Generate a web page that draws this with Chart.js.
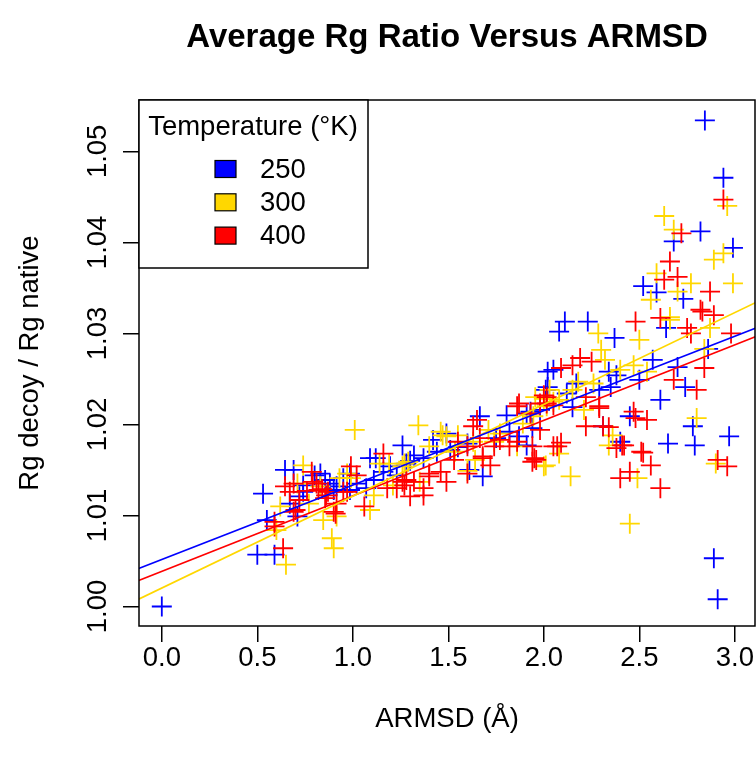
<!DOCTYPE html>
<html>
<head>
<meta charset="utf-8">
<script src="https://cdn.jsdelivr.net/npm/chart.js@4"></script>
<style>
  body { margin: 0; background: #fff; }
  canvas { display: block; }
</style>
</head>
<body>
<canvas id="rgChart" width="756" height="758"></canvas>
<script>
(() => {
  'use strict'

  const fontFamily = '"Liberation Sans", Arial, Helvetica, sans-serif'
  const baseSize = 27.5

  const temperatures = ['250', '300', '400']
  const colors = ['#0000FF', '#FFD700', '#FF0000']

  // [ARMSD, Rg decoy / Rg native]
  const points250 = [
    [0.00, 1.0000], [0.50, 1.0057], [0.59, 1.0057], [0.53, 1.0124], [0.55, 1.0095],
    [0.645, 1.0150], [0.69, 1.0150], [0.67, 1.0113], [0.71, 1.0099], [0.72, 1.0121],
    [0.74, 1.0133], [0.74, 1.0126], [0.80, 1.0144], [0.83, 1.0146], [0.855, 1.0139],
    [0.88, 1.0135], [0.90, 1.0128], [0.915, 1.0132], [0.95, 1.0141], [0.985, 1.0128],
    [0.985, 1.0146], [1.02, 1.0135], [1.07, 1.0130], [1.09, 1.0163], [1.11, 1.0139],
    [1.12, 1.0163], [1.16, 1.0148], [1.195, 1.0154], [1.23, 1.0144], [1.26, 1.0177],
    [1.28, 1.0157], [1.30, 1.0160], [1.32, 1.0166], [1.37, 1.0163], [1.42, 1.0183],
    [1.44, 1.0170], [1.49, 1.0190], [1.51, 1.0172], [1.55, 1.0175], [1.60, 1.0179],
    [1.61, 1.0150], [1.665, 1.0209], [1.68, 1.0143], [1.75, 1.0185], [1.805, 1.0210],
    [1.82, 1.0192], [1.87, 1.0187], [1.91, 1.0177], [1.91, 1.0212], [1.93, 1.0214],
    [1.94, 1.0196], [1.98, 1.0216], [2.01, 1.0238], [2.02, 1.0241], [2.02, 1.0258],
    [2.05, 1.0260], [2.08, 1.0302], [2.11, 1.0313], [2.12, 1.0234], [2.15, 1.0219],
    [2.17, 1.0245], [2.23, 1.0313], [2.29, 1.0238], [2.31, 1.0198], [2.34, 1.0258],
    [2.35, 1.0241], [2.37, 1.0295], [2.38, 1.0254], [2.40, 1.0181], [2.45, 1.0209],
    [2.50, 1.0249], [2.52, 1.0352], [2.57, 1.0271], [2.59, 1.0345], [2.61, 1.0227],
    [2.64, 1.0306], [2.65, 1.0179], [2.68, 1.0401], [2.70, 1.0263], [2.73, 1.0338],
    [2.74, 1.0241], [2.78, 1.0198], [2.79, 1.0177], [2.82, 1.0412], [2.843, 1.0534],
    [2.86, 1.0283], [2.89, 1.0053], [2.91, 1.0008], [2.94, 1.0471], [2.97, 1.0187],
    [2.99, 1.0394]
  ]
  const points300 = [
    [0.60, 1.0084], [0.62, 1.0110], [0.65, 1.0046], [0.71, 1.0135], [0.74, 1.0155],
    [0.77, 1.0113], [0.83, 1.0132], [0.845, 1.0095], [0.89, 1.0075], [0.90, 1.0064],
    [0.915, 1.0099], [0.93, 1.0141], [0.97, 1.0146], [0.99, 1.0141], [1.01, 1.0194],
    [1.09, 1.0106], [1.11, 1.0122], [1.14, 1.0157], [1.19, 1.0157], [1.21, 1.0133],
    [1.26, 1.0154], [1.27, 1.0157], [1.29, 1.0159], [1.343, 1.0199], [1.35, 1.0137],
    [1.40, 1.0176], [1.46, 1.0192], [1.47, 1.0188], [1.49, 1.0187], [1.535, 1.0170],
    [1.55, 1.0188], [1.60, 1.0149], [1.63, 1.0181], [1.64, 1.0161], [1.71, 1.0194],
    [1.74, 1.0181], [1.77, 1.0190], [1.86, 1.0176], [1.89, 1.0201], [1.945, 1.0209],
    [1.955, 1.0230], [2.00, 1.0154], [2.00, 1.0228], [2.01, 1.0155], [2.015, 1.0220],
    [2.03, 1.0238], [2.05, 1.0225], [2.08, 1.0227], [2.08, 1.0168], [2.14, 1.0143],
    [2.15, 1.0238], [2.18, 1.0247], [2.21, 1.0216], [2.26, 1.0245], [2.285, 1.0300],
    [2.30, 1.0282], [2.32, 1.0271], [2.34, 1.0177], [2.36, 1.0188], [2.40, 1.0260],
    [2.45, 1.0091], [2.47, 1.0265], [2.49, 1.0141], [2.50, 1.0293], [2.54, 1.0258],
    [2.56, 1.0337], [2.59, 1.0366], [2.63, 1.0429], [2.66, 1.0315], [2.66, 1.0318],
    [2.68, 1.0414], [2.70, 1.0346], [2.77, 1.0355], [2.80, 1.0207], [2.84, 1.0283],
    [2.87, 1.0306], [2.89, 1.0381], [2.90, 1.0157], [2.94, 1.0388], [2.96, 1.0440],
    [2.99, 1.0355]
  ]
  const points400 = [
    [0.59, 1.0088], [0.59, 1.0093], [0.635, 1.0064], [0.645, 1.0132], [0.67, 1.0126],
    [0.69, 1.0104], [0.69, 1.0135], [0.70, 1.0106], [0.72, 1.0117], [0.76, 1.0127],
    [0.785, 1.0148], [0.79, 1.0137], [0.81, 1.0135], [0.82, 1.0128], [0.84, 1.0129],
    [0.855, 1.0119], [0.86, 1.0122], [0.87, 1.0126], [0.90, 1.0104], [0.91, 1.0102],
    [0.915, 1.0113], [0.95, 1.0126], [0.97, 1.0126], [0.99, 1.0154], [1.02, 1.0144],
    [1.06, 1.0110], [1.16, 1.0168], [1.18, 1.0130], [1.23, 1.0130], [1.26, 1.0137],
    [1.27, 1.0133], [1.28, 1.0139], [1.30, 1.0121], [1.32, 1.0137], [1.37, 1.0122],
    [1.37, 1.0130], [1.40, 1.0143], [1.40, 1.0146], [1.46, 1.0148], [1.49, 1.0137],
    [1.53, 1.0161], [1.55, 1.0181], [1.60, 1.0146], [1.60, 1.0176], [1.63, 1.0198],
    [1.65, 1.0205], [1.665, 1.0185], [1.68, 1.0163], [1.68, 1.0165], [1.72, 1.0155],
    [1.74, 1.0176], [1.77, 1.0183], [1.82, 1.0176], [1.86, 1.0181], [1.86, 1.0220],
    [1.87, 1.0223], [1.93, 1.0212], [1.94, 1.0159], [1.94, 1.0176], [1.95, 1.0163],
    [1.96, 1.0161], [1.98, 1.0194], [1.98, 1.0223], [2.00, 1.0232], [2.015, 1.0223],
    [2.015, 1.0230], [2.05, 1.0176], [2.05, 1.0221], [2.07, 1.0176], [2.09, 1.0180],
    [2.09, 1.0262], [2.15, 1.0265], [2.19, 1.0273], [2.22, 1.0198], [2.22, 1.0230],
    [2.25, 1.0269], [2.29, 1.0218], [2.29, 1.0220], [2.31, 1.0198], [2.34, 1.0197],
    [2.38, 1.0174], [2.40, 1.0141], [2.41, 1.0177], [2.42, 1.0177], [2.45, 1.0148],
    [2.47, 1.0214], [2.48, 1.0207], [2.48, 1.0313], [2.51, 1.0170], [2.52, 1.0169],
    [2.54, 1.0205], [2.56, 1.0155], [2.61, 1.0130], [2.61, 1.0317], [2.63, 1.0359],
    [2.66, 1.0379], [2.68, 1.0249], [2.70, 1.0362], [2.72, 1.0410], [2.75, 1.0306],
    [2.77, 1.0300], [2.80, 1.0238], [2.82, 1.0326], [2.83, 1.0324], [2.84, 1.0262],
    [2.87, 1.0346], [2.89, 1.0320], [2.91, 1.0161], [2.94, 1.0447], [2.96, 1.0154],
    [2.98, 1.0300]
  ]

  // fitted lines, read at both ends of the plot
  const fitX = [-0.13, 3.11]
  const fit250 = [1.00411, 1.03059]
  const fit300 = [1.00072, 1.03341]
  const fit400 = [1.00278, 1.02967]

  const xTicks = [0, 0.5, 1, 1.5, 2, 2.5, 3]
  const xTickLabels = ['0.0', '0.5', '1.0', '1.5', '2.0', '2.5', '3.0']
  const yTicks = [1.00, 1.01, 1.02, 1.03, 1.04, 1.05]
  const yTickLabels = ['1.00', '1.01', '1.02', '1.03', '1.04', '1.05']

  const toXY = pts => pts.map(p => ({ x: p[0], y: p[1] }))
  const fitLine = ends => fitX.map((x, i) => ({ x, y: ends[i] }))

  const scatterSet = (pts, i) => ({
    label: temperatures[i],
    data: toXY(pts),
    pointStyle: 'cross',
    pointRadius: 10,
    pointHoverRadius: 10,
    borderWidth: 1.8,
    borderColor: colors[i],
    backgroundColor: colors[i],
    showLine: false,
    order: 3 - i
  })
  const lineSet = (ends, i) => ({
    label: 'fit ' + temperatures[i],
    data: fitLine(ends),
    showLine: true,
    pointRadius: 0,
    borderWidth: 1.6,
    borderColor: colors[i],
    order: 0
  })

  // box, title, rotated y labels and legend, drawn the R way
  const rDecor = {
    id: 'rDecor',
    afterDraw(chart) {
      const { ctx, chartArea: a, scales: { y } } = chart
      ctx.save()
      ctx.strokeStyle = '#000'
      ctx.lineWidth = 1.5
      ctx.strokeRect(a.left, a.top, a.right - a.left, a.bottom - a.top)

      ctx.fillStyle = '#000'
      ctx.textAlign = 'center'
      ctx.textBaseline = 'middle'
      ctx.font = `${baseSize}px ${fontFamily}`
      yTicks.forEach((v, i) => {
        ctx.save()
        ctx.translate(98, y.getPixelForValue(v))
        ctx.rotate(-Math.PI / 2)
        ctx.fillText(yTickLabels[i], 0, 0)
        ctx.restore()
      })

      ctx.font = `bold 33px ${fontFamily}`
      ctx.fillText('Average Rg Ratio Versus ARMSD', (a.left + a.right) / 2, 38)

      // legend box in the top left corner
      const lx = a.left, ly = a.top
      ctx.fillStyle = '#fff'
      ctx.fillRect(lx, ly, 229, 168)
      ctx.strokeRect(lx, ly, 229, 168)
      ctx.fillStyle = '#000'
      ctx.font = `${baseSize}px ${fontFamily}`
      ctx.fillText('Temperature (°K)', lx + 114, ly + 27)
      ctx.textAlign = 'left'
      temperatures.forEach((t, i) => {
        const cy = ly + 69 + i * 33.3
        ctx.fillStyle = colors[i]
        ctx.fillRect(lx + 76, cy - 8.5, 21, 17)
        ctx.lineWidth = 1.2
        ctx.strokeRect(lx + 76, cy - 8.5, 21, 17)
        ctx.fillStyle = '#000'
        ctx.fillText(t, lx + 121, cy + 1)
      })
      ctx.restore()
    }
  }

  const axisGrid = {
    drawOnChartArea: false,
    drawTicks: true,
    tickLength: 16,
    color: '#000',
    lineWidth: 1.5
  }

  // fixed axis sizes, no extra room for overhanging tick labels
  const fixSize = (s, prop, size) => {
    s[prop] = size
    s.paddingLeft = 0
    s.paddingRight = 0
    s.paddingTop = 0
    s.paddingBottom = 0
  }

  new Chart(document.getElementById('rgChart'), {
    type: 'scatter',
    data: {
      datasets: [
        scatterSet(points250, 0),
        scatterSet(points300, 1),
        scatterSet(points400, 2),
        lineSet(fit250, 0),
        lineSet(fit300, 1),
        lineSet(fit400, 2)
      ]
    },
    options: {
      responsive: false,
      animation: false,
      layout: {
        autoPadding: false, // no room reserved for the point crosses
        padding: { top: 100, right: 1, left: 0, bottom: 0 }
      },
      plugins: {
        legend: { display: false },
        title: { display: false },
        tooltip: { enabled: false }
      },
      scales: {
        x: {
          type: 'linear',
          min: -0.1194,
          max: 3.1054,
          grid: axisGrid,
          border: { display: false },
          afterBuildTicks: s => { s.ticks = xTicks.map(v => ({ value: v })) },
          afterFit: s => fixSize(s, 'height', 132),
          ticks: {
            autoSkip: false,
            maxRotation: 0,
            padding: 0,
            color: '#000',
            font: { family: fontFamily, size: baseSize },
            callback: (v, i) => xTickLabels[i]
          },
          title: {
            display: true,
            text: 'ARMSD (Å)',
            color: '#000',
            font: { family: fontFamily, size: baseSize },
            padding: { top: 0, bottom: 22 }
          }
        },
        y: {
          type: 'linear',
          min: 0.99786,
          max: 1.05564,
          grid: axisGrid,
          border: { display: false },
          afterBuildTicks: s => { s.ticks = yTicks.map(v => ({ value: v })) },
          afterFit: s => fixSize(s, 'width', 139),
          ticks: { display: false },
          title: {
            display: true,
            text: 'Rg decoy / Rg native',
            color: '#000',
            font: { family: fontFamily, size: baseSize },
            padding: { top: 14, bottom: 0 }
          }
        }
      }
    },
    plugins: [rDecor]
  })
})()
</script>
</body>
</html>
